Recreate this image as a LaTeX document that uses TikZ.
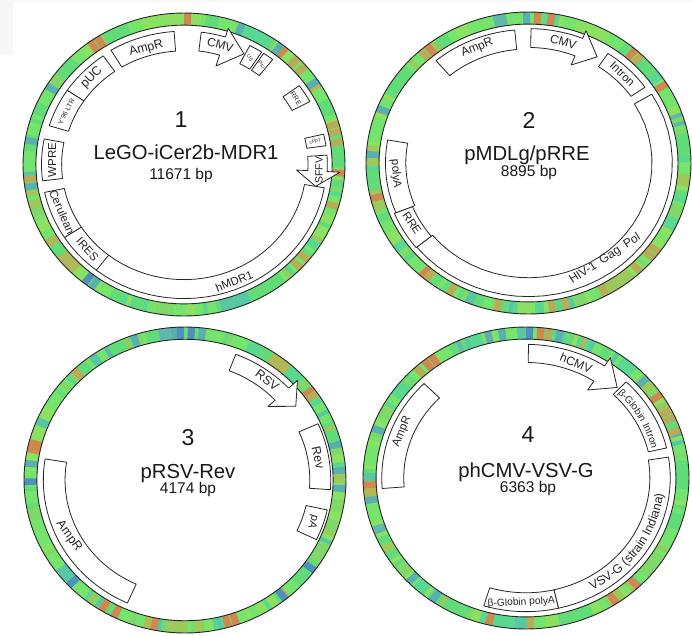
\documentclass[tikz,border=0pt]{standalone}
\usepackage{fontspec}
\setmainfont{Liberation Sans}
\usetikzlibrary{decorations.text}
\definecolor{rA}{HTML}{74E46C}
\definecolor{rB}{HTML}{62DC78}
\definecolor{rC}{HTML}{8CE062}
\definecolor{rD}{HTML}{58D890}
\definecolor{rE}{HTML}{80D868}
\definecolor{rF}{HTML}{58C8A4}
\definecolor{rG}{HTML}{9CC85C}
\definecolor{rH}{HTML}{60B8AC}
\definecolor{rI}{HTML}{B0B858}
\definecolor{or}{HTML}{D08850}
\definecolor{ol}{HTML}{B8AC58}
\definecolor{bl}{HTML}{5090BC}
\definecolor{te}{HTML}{58B0B0}
\tikzset{
  genebox/.style={draw=black!85,line width=0.8pt,fill=white,line join=round},
  ringline/.style={draw=black!85,line width=0.9pt},
  glab/.style={inner sep=0pt,text=black!85},
  ctitle/.style={inner sep=0pt,text=black!90}
}
\newcount\lblcnt
\def\setP#1#2#3#4{\def\pcx{#1}\def\pcy{#2}\def\prx{#3}\def\pry{#4}}
\def\xx#1#2{{\pcx+\prx*#2*sin(#1)}}
\def\yy#1#2{{\pcy-\pry*#2*cos(#1)}}
% ring
\def\drawring#1#2{%
  \pgfmathsetseed{#1}%
  \gdef\cn{rA}%
  \foreach \ra in {0,1.6,...,358.5}{%
    \pgfmathrandominteger{\rj}{1}{100}%
    \pgfmathrandominteger{\rk}{1}{100}%
    \ifnum\rj<50
    \ifnum\rk<28 \gdef\cn{rA}\else\ifnum\rk<48 \gdef\cn{rB}\else\ifnum\rk<63 \gdef\cn{rC}\else
    \ifnum\rk<75 \gdef\cn{rD}\else\ifnum\rk<86 \gdef\cn{rE}\else\ifnum\rk<91 \gdef\cn{rF}\else
    \ifnum\rk<97 \gdef\cn{rG}\else\ifnum\rk<99 \gdef\cn{rH}\else\gdef\cn{rI}\fi\fi\fi\fi\fi\fi\fi\fi
    \fi
    \pgfmathsetmacro\rb{\ra+2.0}%
    \fill[\cn] (\xx{\ra}{0.92},\yy{\ra}{0.92}) -- (\xx{\ra}{1.0},\yy{\ra}{1.0}) -- (\xx{\rb}{1.0},\yy{\rb}{1.0}) -- (\xx{\rb}{0.92},\yy{\rb}{0.92}) -- cycle;
  }%
  \foreach \ra/\sc in {#2}{%
    \pgfmathsetmacro\rb{\ra+2.6}%
    \fill[\sc] (\xx{\ra}{0.92},\yy{\ra}{0.92}) -- (\xx{\ra}{1.0},\yy{\ra}{1.0}) -- (\xx{\rb}{1.0},\yy{\rb}{1.0}) -- (\xx{\rb}{0.92},\yy{\rb}{0.92}) -- cycle;
  }%
  \draw[ringline] plot[domain=0:360,samples=121,variable=\t] (\xx{\t}{1.0},\yy{\t}{1.0}) -- cycle;
  \draw[ringline] plot[domain=0:360,samples=121,variable=\t] (\xx{\t}{0.92},\yy{\t}{0.92}) -- cycle;
}
% #1 a1, #2 a2, #3 rin, #4 rout
\def\gene#1#2#3#4{%
  \draw[genebox] plot[domain=#1:#2,samples=31,variable=\t] (\xx{\t}{#4},\yy{\t}{#4})
    -- plot[domain=#2:#1,samples=31,variable=\t] (\xx{\t}{#3},\yy{\t}{#3}) -- cycle;
}
% #1 a start, #2 a head base, #3 a tip, #4 rin, #5 rout, #6 wing in, #7 wing out, #8 rtip
\def\agene#1#2#3#4#5#6#7#8{%
  \draw[genebox] plot[domain=#1:#2,samples=21,variable=\t] (\xx{\t}{#5},\yy{\t}{#5})
    -- (\xx{#2}{#7},\yy{#2}{#7}) -- (\xx{#3}{#8},\yy{#3}{#8}) -- (\xx{#2}{#6},\yy{#2}{#6})
    -- plot[domain=#2:#1,samples=21,variable=\t] (\xx{\t}{#4},\yy{\t}{#4}) -- cycle;
}
% label in polar position: #1 angle, #2 r, #3 rot, #4 size, #5 text
\def\glabel#1#2#3#4#5{%
  \global\advance\lblcnt by 1
  \node[glab,rotate=#3] (lb\the\lblcnt) at (\xx{#1}{#2},\yy{#1}{#2}) {\fontsize{#4}{#4}\selectfont #5};
}
\def\titles#1#2#3#4#5#6#7#8{% x num, y num, num, x text, y title, title, y bp, bp
  \global\advance\lblcnt by 1
  \node[ctitle] (tn\the\lblcnt) at (#1,#2) {\fontsize{23}{23}\selectfont #3};
  \node[ctitle] (tt\the\lblcnt) at (#4,#5) {\fontsize{20.3}{20.3}\selectfont #6};
  \node[ctitle] (tb\the\lblcnt) at (#1,#7) {\fontsize{15.5}{15.5}\selectfont #8};
}
\begin{document}
\begin{tikzpicture}[x=1pt,y=-1pt]
\useasboundingbox (0,0) rectangle (692,635);
\fill[white] (0,0) rectangle (692,635);
\fill[black!3] (0,0) rectangle (13,55);
\fill[black!3] (0,0) rectangle (692,2);

% ---------- 1 ----------
\setP{184}{164.5}{161}{151.5}
\drawring{11}{0/or,-34/or,-37/or,38/or,44/ol,48/ol,55/te,73/ol,76/ol,80/ol,92/or,105/ol,128/ol,132/ol,-97/ol,-100/te,-82/te,-60/te,-143/bl,-146/te,36/te,20/te}
\gene{-31}{-4}{0.75}{0.88}
\gene{-56}{-35}{0.75}{0.875}
\gene{-73}{-56}{0.75}{0.875}
\gene{-97}{-79}{0.76}{0.885}
\gene{-123}{-102}{0.76}{0.885}
\gene{-143}{-123}{0.76}{0.885}
\gene{100}{218}{0.76}{0.885}
\gene{77}{82}{0.77}{0.89}
\gene{54}{62}{0.76}{0.885}
\gene{27.5}{33}{0.75}{0.885}
\gene{34}{38.5}{0.75}{0.885}
\agene{7}{17}{27}{0.755}{0.88}{0.68}{0.94}{0.82}
\agene{86}{93}{100}{0.77}{0.89}{0.70}{0.97}{0.83}
\glabel{-17}{0.80}{15}{12.5}{AmpR}
\glabel{-45}{0.81}{46}{12.5}{pUC}
\glabel{-64.5}{0.81}{62}{6.8}{Y'96 LTR}
\glabel{-88}{0.82}{90}{11.5}{WPRE}
\glabel{-112.5}{0.82}{-66}{11.5}{Cerulean}
\glabel{-133}{0.82}{-48}{11.5}{IRES}
\glabel{158}{0.83}{22}{11.5}{hMDR1}
\glabel{16}{0.82}{-15}{12}{CMV}
\glabel{30.2}{0.815}{-60}{5.5}{U5}
\glabel{36.2}{0.815}{-55}{5.5}{Psi}
\glabel{58}{0.82}{-58}{6.8}{RRE}
\glabel{79.5}{0.83}{10}{4.8}{cPPT}
\glabel{92.5}{0.84}{90}{10.5}{SFFV}
\titles{181}{120}{1}{186}{152}{LeGO-iCer2b-MDR1}{175}{11671 bp}

% ---------- 2 ----------
\setP{528.5}{163}{162.5}{151}
\drawring{23}{2/or,7/or,-2/te,-40/or,-43/ol,40/or,43/ol,57/or,-105/or,-140/or,-142/ol,-70/te,-88/te,125/ol,128/ol,135/ol,150/ol,165/ol,170/ol,-170/ol,-152/ol}
\gene{-40}{-5.5}{0.755}{0.885}
\agene{1}{22}{31}{0.765}{0.89}{0.70}{0.945}{0.82}
\gene{34}{55}{0.77}{0.875}
\gene{59}{231}{0.76}{0.885}
\gene{-129}{-112}{0.77}{0.89}
\gene{-112}{-80}{0.755}{0.88}
\glabel{-22.5}{0.825}{22}{12}{AmpR}
\glabel{15}{0.83}{-15}{12}{CMV}
\glabel{44.5}{0.825}{-44}{11.5}{Intron}
\glabel{-119}{0.82}{-56}{11.5}{RRE}
\glabel{-95}{0.82}{-85}{11.5}{polyA}
\node[glab,rotate=33] (gp2) at (605,259) {\fontsize{12}{12}\selectfont HIV-1\hspace{6pt}Gag\hspace{6pt}Pol};
\titles{529}{120}{2}{527}{155}{pMDLg/pRRE}{172}{8895 bp}

% ---------- 3 ----------
\setP{185}{480}{161}{153}
\drawring{37}{-77/or,-79.5/or,-135/bl,-155/or,-150/or,-170/or,160/or,163/or,140/bl,125/bl,75/te,-20/te,-5/te,-3/bl,1/bl,5/te,-92/bl,-85/te,85/te,92/te,-45/ol,52/or,54/ol}
\agene{21}{47}{55}{0.765}{0.88}{0.705}{0.955}{0.84}
\gene{66}{94}{0.775}{0.905}
\gene{102.5}{115.5}{0.77}{0.905}
\gene{-156}{-81}{0.745}{0.88}
\glabel{38}{0.83}{-37}{12.5}{RSV}
\glabel{80}{0.84}{-78}{12.5}{Rev}
\glabel{109}{0.84}{-108}{11}{pA}
\glabel{-117}{0.81}{-54}{12.5}{AmpR}
\titles{188}{438}{3}{188}{474}{pRSV-Rev}{489.5}{4174 bp}

% ---------- 4 ----------
\setP{526}{478}{163}{151}
\drawring{51}{0/bl,4/or,7/ol,11/te,-40/or,-37/or,-44/ol,-94/or,-168/or,177/ol,-146/te,-135/te,-100/te,-72/te,-15/te,-10/te,47/te,55/or,62/ol,65/ol,70/ol,135/or,145/or}
\gene{-94.5}{-45}{0.75}{0.885}
\agene{1}{33}{43}{0.765}{0.885}{0.695}{0.95}{0.82}
\gene{44}{77}{0.77}{0.885}
\gene{81}{167}{0.76}{0.885}
\gene{167}{197}{0.76}{0.885}
\glabel{-68}{0.82}{68}{11.5}{AmpR}
\glabel{22}{0.82}{-22}{12}{hCMV}
\path[decorate,decoration={text along path,text align=center,text={|\fontsize{10}{10}\selectfont\color{black!85}|β-Globin Intron}}]
  plot[domain=42:79,samples=21,variable=\t] (\xx{\t}{0.795},\yy{\t}{0.795});
\path[decorate,decoration={text along path,text align=center,text={|\fontsize{12.4}{12.4}\selectfont\color{black!85}|VSV-G (strain Indiana)}}]
  plot[domain=160:88,samples=31,variable=\t] (\xx{\t}{0.85},\yy{\t}{0.85});
\glabel{-178}{0.825}{3}{10.2}{β-Globin polyA}
\titles{528}{435}{4}{526}{472}{phCMV-VSV-G}{488}{6363 bp}
\end{tikzpicture}
\end{document}
